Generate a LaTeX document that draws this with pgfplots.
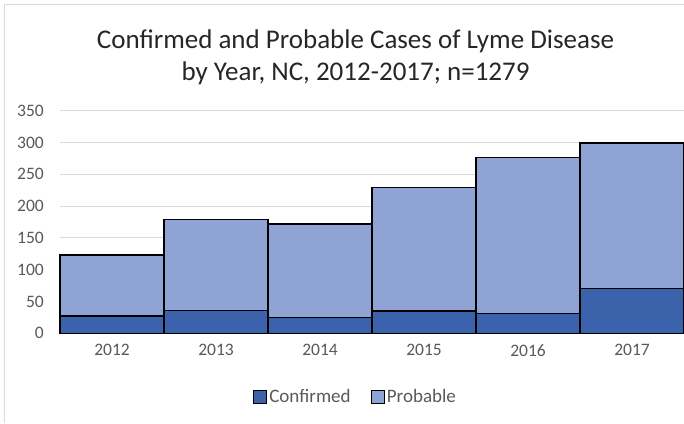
\documentclass[border=0pt]{standalone}
\usepackage{fontspec}
\setmainfont{Carlito}
\usepackage{pgfplots}
\pgfplotsset{compat=1.18}
\definecolor{conf}{RGB}{59,99,172}
\definecolor{prob}{RGB}{143,164,212}
\definecolor{txt}{RGB}{89,89,89}
\definecolor{grd}{RGB}{217,217,217}
\begin{document}
\begin{tikzpicture}
\useasboundingbox (0pt,0pt) rectangle (684pt,423pt);
\draw[grd, line width=1pt] (4.5pt,0pt) -- (4.5pt,418.5pt) -- (690pt,418.5pt);
\node[font=\fontsize{27}{32}\selectfont, align=center, text=black!85, anchor=center] at (355.5pt,366pt) {Confirmed and Probable Cases of Lyme Disease\\by Year, NC, 2012-2017; n=1279};
\begin{axis}[
  at={(60pt,89.7pt)}, anchor=south west,
  width=624pt, height=222.6pt, scale only axis,
  xmin=-0.5, xmax=5.5, ymin=0, ymax=350,
  ytick={0,50,...,350},
  xtick={0,...,5},
  xticklabels={2012,2013,2014,2015,2016,2017},
  ybar stacked, bar width=1,
  ymajorgrids, grid style={grd, line width=1pt},
  axis x line*=bottom, axis y line*=left,
  x axis line style={grd, line width=1pt},
  y axis line style={draw=none},
  major tick length=0pt,
  /pgf/number format/assume math mode=true,
  ticklabel style={font=\fontsize{17.5}{20}\selectfont, text=txt},
  yticklabel style={inner sep=0pt, xshift=-16pt},
  xticklabel style={inner sep=0pt, yshift=-11pt},
  clip=false,
  legend style={at={(0.4736,-0.286)}, anchor=center, draw=none, fill=none,
    legend columns=2, font=\fontsize{19}{22}\selectfont, text=txt,
    /tikz/every even column/.append style={column sep=18pt}},
  legend image code/.code={\draw[#1, draw=black, line width=1.2pt] (-2pt,-6.5pt) rectangle (11pt,6.5pt);},
]
\addplot[fill=conf, draw=black, line width=1.3pt] coordinates {(0,27) (1,36) (2,25) (3,35) (4,31) (5,70)};
\addplot[fill=prob, draw=black, line width=1.3pt] coordinates {(0,96) (1,143) (2,147) (3,194) (4,245) (5,229)};
\legend{Confirmed, Probable}
\end{axis}
\end{tikzpicture}
\end{document}
